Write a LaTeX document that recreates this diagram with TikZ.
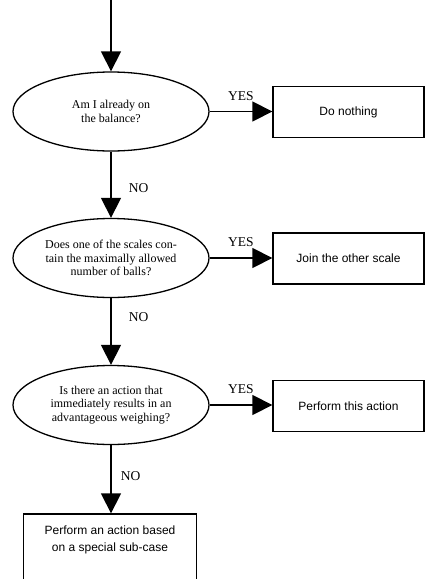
\documentclass[tikz,border=0pt]{standalone}
\usepackage{fontspec}
\setmainfont{Liberation Serif}
\newfontfamily\arialfont{Liberation Sans}
\usetikzlibrary{shapes.geometric,arrows.meta}

\begin{document}
\begin{tikzpicture}[x=1pt,y=-1pt,
    question/.style={ellipse, draw, line width=1.3pt, minimum width=196pt,
      minimum height=79pt, inner sep=0pt, align=center,
      font=\fontsize{12}{13.5}\selectfont},
    action/.style={rectangle, draw, line width=1.3pt, minimum width=151pt,
      minimum height=51pt, inner sep=0pt, align=center,
      font=\arialfont\fontsize{12}{17}\selectfont},
    flow/.style={line width=1.3pt, -{Triangle[length=20pt,width=20pt]}},
    answer/.style={font=\fontsize{13.5}{15}\selectfont}]
  \useasboundingbox (0,0) rectangle (425,579);
  % questions
  \coordinate (start) at (111,0);
  \node[question] (q1) at (111,111.5) {Am I already on\\the balance?};
  \node[question] (q2) at (111,258) {Does one of the scales con-\\tain the maximally allowed\\number of balls?};
  \node[question] (q3) at (111,405) {Is there an action that\\immediately results in an\\advantageous weighing?};
  % actions
  \node[action] (a1) at (348.5,112) {Do nothing};
  \node[action] (a2) at (348.5,258.5) {Join the other scale};
  \node[action] (a3) at (348.5,406) {Perform this action};
  \node[action, minimum width=173pt, minimum height=67pt] (a4) at (110,547.5)
    {Perform an action based\\on a special sub-case\\\mbox{}};
  % flow
  \draw[flow] (start) -- (q1.north);
  \draw[flow] (q1.east) -- node[answer, above=7pt] (y1) {YES} (q1.east -| a1.west);
  \draw[flow] (q2.east) -- node[answer, above=7pt] (y2) {YES} (q2.east -| a2.west);
  \draw[flow] (q3.east) -- node[answer, above=7pt] (y3) {YES} (q3.east -| a3.west);
  \draw[flow] (q1.south) -- node[answer, pos=0.55, right=14pt] (n1) {NO} (q2.north);
  \draw[flow] (q2.south) -- node[answer, pos=0.29, right=14pt] (n2) {NO} (q3.north);
  \draw[flow] (q3.south) -- node[answer, pos=0.46, right=6pt] (n3) {NO} (q3.south |- a4.north);
\end{tikzpicture}
\end{document}
